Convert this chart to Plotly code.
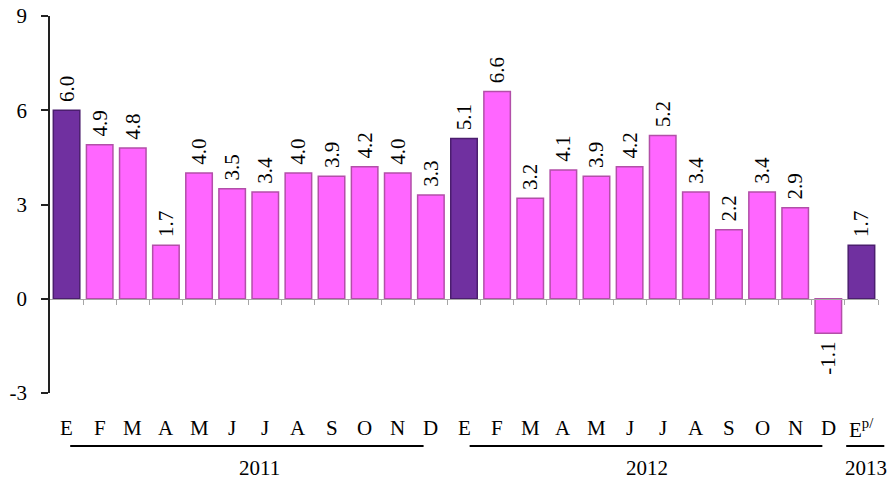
import plotly.graph_objects as go

# Monthly values: Jan 2011 .. Jan 2013 (preliminary)
months = ["E", "F", "M", "A", "M", "J", "J", "A", "S", "O", "N", "D",
          "E", "F", "M", "A", "M", "J", "J", "A", "S", "O", "N", "D",
          "E<sup>p/</sup>"]
values = [6.0, 4.9, 4.8, 1.7, 4.0, 3.5, 3.4, 4.0, 3.9, 4.2, 4.0, 3.3,
          5.1, 6.6, 3.2, 4.1, 3.9, 4.2, 5.2, 3.4, 2.2, 3.4, 2.9, -1.1,
          1.7]
years = ["2011", "2012", "2013"]
# bracket line under each year's months, and where the year label sits
year_spans = [(0.11, 10.78), (12.17, 22.82), (23.54, 24.69)]
year_label_pos = [5.84, 17.54, 24.15]
y_ticks = [-3, 0, 3, 6, 9]
y_tick_text = ["-3", "0", "3", "6", "9"]

PURPLE = "#7030A0"
PINK = "#FF66FF"
FONT = "Liberation Serif"
NBSP = "\u00a0"

x = list(range(len(values)))
colors = [PURPLE if m.startswith("E") else PINK for m in months]
edges = ["#4B1E6E" if m.startswith("E") else "#B24FA8" for m in months]
X_MIN, X_MAX = -0.5, len(values) - 0.5


def to_paper(v):
    return (v - X_MIN) / (X_MAX - X_MIN)


# pad each value label away from its bar end
labels = [(NBSP + f"{v:.1f}") if v >= 0 else (f"{v:.1f}" + NBSP) for v in values]

fig = go.Figure()
fig.add_trace(go.Bar(
    x=x, y=values,
    width=0.8,
    marker=dict(color=colors, line=dict(color=edges, width=1.5)),
    text=labels,
    textposition="outside",
    textangle=-90,
    constraintext="none",
    outsidetextfont=dict(family=FONT, size=21, color="#000"),
    cliponaxis=False,
    hoverinfo="skip",
))

annotations = []
for i, m in enumerate(months):
    annotations.append(dict(
        x=i, xref="x", y=-0.093, yref="paper", text=m, showarrow=False,
        xanchor="center", yanchor="middle",
    ))
for yr, pos in zip(years, year_label_pos):
    annotations.append(dict(
        x=pos, xref="x", y=-0.199, yref="paper", text=yr, showarrow=False,
        xanchor="center", yanchor="middle",
    ))

shapes = []
for a, b in year_spans:
    shapes.append(dict(
        type="line", xref="paper", yref="paper",
        x0=to_paper(a), x1=to_paper(b), y0=-0.1406, y1=-0.1406,
        line=dict(color="#000", width=2),
    ))

fig.update_layout(
    template="none",
    width=888, height=481,
    margin=dict(l=50, r=10, t=16, b=88, autoexpand=False),
    font=dict(family=FONT, size=21, color="#000"),
    plot_bgcolor="white", paper_bgcolor="white",
    showlegend=False,
    bargap=0.2,
    annotations=annotations,
    shapes=shapes,
    xaxis=dict(
        range=[X_MIN, X_MAX],
        anchor="free", position=0.25, automargin=False,
        showline=True, linecolor="#A6A6A6", linewidth=1,
        ticks="outside", ticklen=5, tickcolor="#A6A6A6", tickwidth=1,
        tickvals=[i + 0.5 for i in x],
        showticklabels=False, showgrid=False, zeroline=False,
    ),
    yaxis=dict(
        range=[-3, 9], tickvals=y_ticks, ticktext=y_tick_text,
        automargin=False,
        showline=True, linecolor="#222", linewidth=1.5,
        ticks="outside", ticklen=7, tickcolor="#222", tickwidth=1.5,
        ticklabelstandoff=10,
        showgrid=False, zeroline=False,
    ),
)

fig.write_html("out.html")
